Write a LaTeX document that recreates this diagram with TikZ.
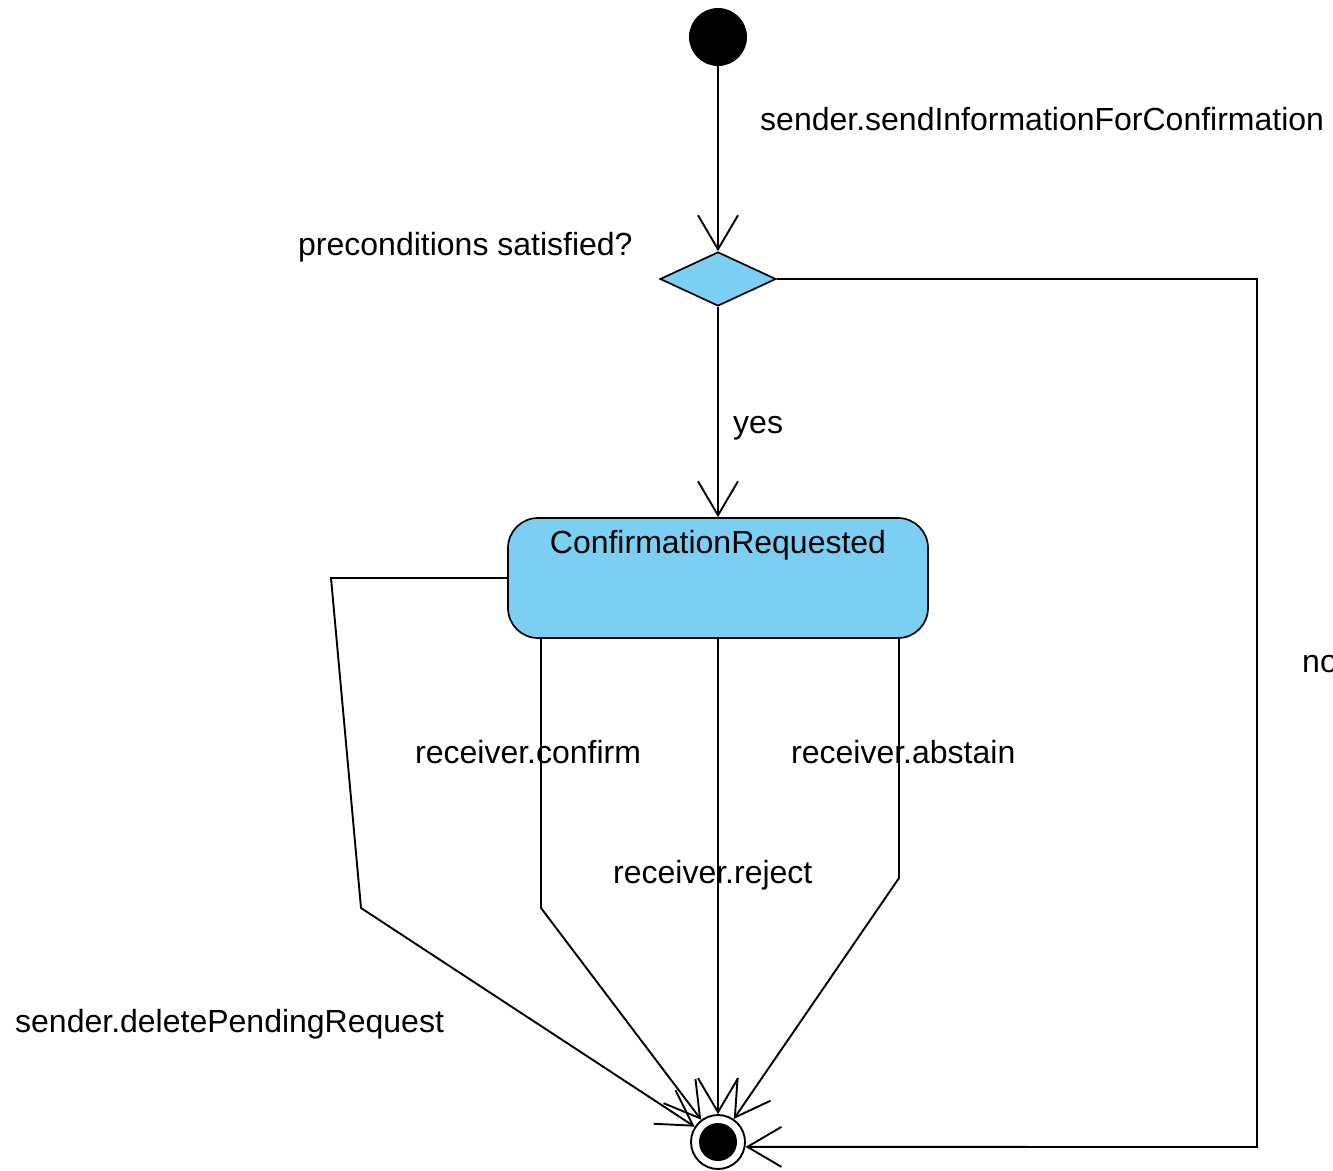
\documentclass[tikz,border=0pt]{standalone}
\usepackage{fontspec}
\setmainfont{Liberation Sans}
\usetikzlibrary{arrows.meta,shapes.geometric}
\definecolor{statefill}{RGB}{122,207,243}

\begin{document}
\begin{tikzpicture}[x=1pt,y=-1pt,
  flow/.style={draw=black, line width=1.9pt, line join=miter,
    -{Straight Barb[length=34pt,width=40pt,line width=1.9pt]}},
  lbl/.style={inner sep=0pt, anchor=base west, font=\fontsize{32}{38}\selectfont},
  initial/.style={circle, fill=black, minimum size=58pt, inner sep=0pt},
  choicebox/.style={diamond, draw=black, fill=statefill, line width=1.7pt,
    minimum width=116pt, minimum height=54pt, inner sep=0pt},
  statebox/.style={rectangle, rounded corners=30pt, draw=black, fill=statefill,
    line width=1.7pt, minimum width=420pt, minimum height=120pt, inner sep=0pt},
  finalring/.style={circle, draw=black, fill=white, line width=1.9pt,
    minimum size=54pt, inner sep=0pt},
  finaldot/.style={circle, fill=black, minimum size=38pt, inner sep=0pt},
]
\useasboundingbox (0,0) rectangle (1333,1170);

% states
\node[initial] (start) at (718,37) {};
\node[choicebox] (choice) at (718,279) {};
\node[statebox] (state) at (718,578) {};
\node[lbl, anchor=base] (statename) at (718,553) {ConfirmationRequested};
\node[finalring] (final) at (718,1142) {};
\node[finaldot] (finalcore) at (final.center) {};

% transition labels
\node[lbl] (lsend) at (760,130) {sender.sendInformationForConfirmation};
\node[lbl] (lpre) at (298,255) {preconditions satisfied?};
\node[lbl] (lyes) at (733,433) {yes};
\node[lbl] (lno) at (1302,672) {no};
\node[lbl] (lconfirm) at (415,763) {receiver.confirm};
\node[lbl] (labstain) at (791,763) {receiver.abstain};
\node[lbl] (lreject) at (613,883) {receiver.reject};
\node[lbl] (ldelete) at (15,1032) {sender.deletePendingRequest};

% bend points
\coordinate (noA) at (1257,279);
\coordinate (noB) at (1257,1147);
\coordinate (delA) at (331,578);
\coordinate (delB) at (361,908);
\coordinate (conB) at (541,908);
\coordinate (absB) at (899,878);

% transitions
\draw[flow] (start) -- (choice);
\draw[flow] (choice) -- (state);
\draw[flow] (choice.east) -- (noA) -- (noB) -- (final.-10);
\draw[flow] (state.west) -- (delA) -- (delB) -- (final);
\draw[flow] ([xshift=-177pt]state.south) -- (conB) -- (final);
\draw[flow] (state.south) -- (final);
\draw[flow] ([xshift=181pt]state.south) -- (absB) -- (final);
\end{tikzpicture}
\end{document}
